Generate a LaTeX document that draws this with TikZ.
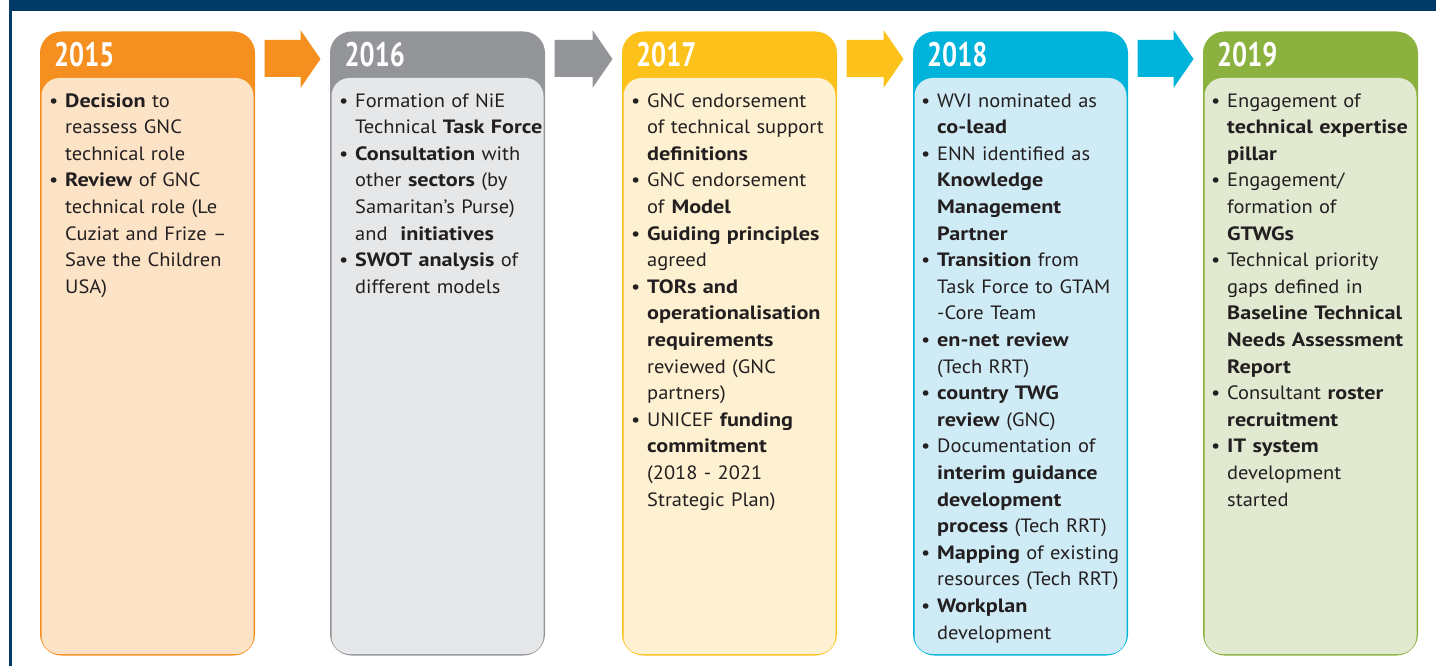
\documentclass[tikz,border=0pt]{standalone}
\usepackage{fontspec}
\setmainfont[FakeStretch=1.06,BoldFeatures={FakeStretch=1.15}]{PT Sans}
\newfontfamily\yearfont[FakeStretch=0.78]{PT Sans}
\usepackage{tikz}
\usetikzlibrary{calc}

\definecolor{navy}{HTML}{003B68}
\definecolor{ink}{HTML}{231F20}
\definecolor{orangeC}{HTML}{F58F1F}
\definecolor{orangeL}{HTML}{FDE3C6}
\definecolor{grayC}{HTML}{939598}
\definecolor{grayL}{HTML}{E6E7E8}
\definecolor{yellowC}{HTML}{FCC11A}
\definecolor{yellowL}{HTML}{FEF1D1}
\definecolor{cyanC}{HTML}{00B3DB}
\definecolor{cyanL}{HTML}{CFEBF5}
\definecolor{greenC}{HTML}{8BB23F}
\definecolor{greenL}{HTML}{E1E9D1}

% one bullet line of a column
\newcommand{\itm}{\par\leftskip=16pt\noindent\llap{\makebox[16pt][l]{\textbullet}}\strut}

% inner light panel of a year box
\newcommand{\panel}[2]{\fill[#2, rounded corners=18pt] ($(#1.north west)+(1.5,46.5)$) rectangle ($(#1.south east)+(-1.5,-1.5)$);}

% fat arrow from one year box to the next
\newcommand{\yeararrow}[3]{\fill[#3] ($(#1.north east)+(9.5,8.5)$) -- ($(#2.north west)+(-29.5,8.5)$)
  -- ($(#2.north west)+(-29.5,-1.5)$) -- ($(#2.north west)+(-9.5,27.5)$)
  -- ($(#2.north west)+(-29.5,56.5)$) -- ($(#2.north west)+(-29.5,45.5)$)
  -- ($(#1.north east)+(9.5,45.5)$) -- cycle;}

\begin{document}
\begin{tikzpicture}[x=1pt,y=-1pt]
\tikzstyle{yearbox} = [rectangle,rounded corners=20pt,line width=3pt,
minimum width=212pt,minimum height=621pt,inner sep=0pt]
\tikzstyle{year} = [anchor=base west,inner sep=0pt,text=white,
font=\yearfont\bfseries\fontsize{34}{34}\selectfont]
\tikzstyle{items} = [anchor=north west,inner sep=0pt,text width=240pt,
align=left,text=ink,font=\fontsize{19.3}{26.6}\selectfont]

\useasboundingbox (0,0) rectangle (1436,666);
\fill[navy] (9,0) rectangle (1436,11.5);
\fill[navy] (9,0) rectangle (11.5,666);

% year boxes
\node[yearbox,draw=orangeC,fill=orangeC] (a) at (147.5,343.5) {};
\node[yearbox,draw=grayC,fill=grayC] (b) at (437.5,343.5) {};
\node[yearbox,draw=yellowC,fill=yellowC] (c) at (729.5,343.5) {};
\node[yearbox,draw=cyanC,fill=cyanC] (d) at (1020.5,343.5) {};
\node[yearbox,draw=greenC,fill=greenC] (e) at (1310.5,343.5) {};
\panel{a}{orangeL}
\panel{b}{grayL}
\panel{c}{yellowL}
\panel{d}{cyanL}
\panel{e}{greenL}

% arrows
\yeararrow{a}{b}{orangeC}
\yeararrow{b}{c}{grayC}
\yeararrow{c}{d}{yellowC}
\yeararrow{d}{e}{cyanC}

% years
\node[year] (ya) at (54,67) {2015};
\node[year] (yb) at (344.5,67) {2016};
\node[year] (yc) at (636,67) {2017};
\node[year] (yd) at (927,67) {2018};
\node[year] (ye) at (1217,67) {2019};

% items
\node[items] (ta) at (49,80.4) {
\itm\textbf{Decision} to\\ reassess GNC\\ technical role
\itm\textbf{Review} of GNC\\ technical role (Le\\ Cuziat and Frize --\\ Save the Children\\ USA)\par};
\node[items] (tb) at (339,80.4) {
\itm Formation of NiE\\ Technical \textbf{Task Force}
\itm\textbf{Consultation} with\\ other \textbf{sectors} (by\\ Samaritan's Purse)\\ and \ \textbf{initiatives}
\itm\textbf{SWOT analysis} of\\ different models\par};
\node[items] (tc) at (631,80.4) {
\itm GNC endorsement\\ of technical support\\ \textbf{definitions}
\itm GNC endorsement\\ of \textbf{Model}
\itm\textbf{Guiding principles}\\ agreed
\itm\textbf{TORs and\\ operationalisation\\ requirements}\\ reviewed (GNC\\ partners)
\itm UNICEF \textbf{funding\\ commitment}\\ (2018 - 2021\\ Strategic Plan)\par};
\node[items] (td) at (921,80.4) {
\itm WVI nominated as\\ \textbf{co-lead}
\itm ENN identified as\\ \textbf{Knowledge\\ Management\\ Partner}
\itm\textbf{Transition} from\\ Task Force to GTAM\\ -Core Team
\itm\textbf{en-net review}\\ (Tech RRT)
\itm\textbf{country TWG\\ review} (GNC)
\itm Documentation of\\ \textbf{interim guidance\\ development\\ process} (Tech RRT)
\itm\textbf{Mapping} of existing\\ resources (Tech RRT)
\itm\textbf{Workplan}\\ development\par};
\node[items] (te) at (1211,80.4) {
\itm Engagement of\\ \textbf{technical expertise\\ pillar}
\itm Engagement/\\ formation of\\ \textbf{GTWGs}
\itm Technical priority\\ gaps defined in\\ \textbf{Baseline Technical\\ Needs Assessment\\ Report}
\itm Consultant \textbf{roster\\ recruitment}
\itm\textbf{IT system}\\ development\\ started\par};
\end{tikzpicture}
\end{document}
